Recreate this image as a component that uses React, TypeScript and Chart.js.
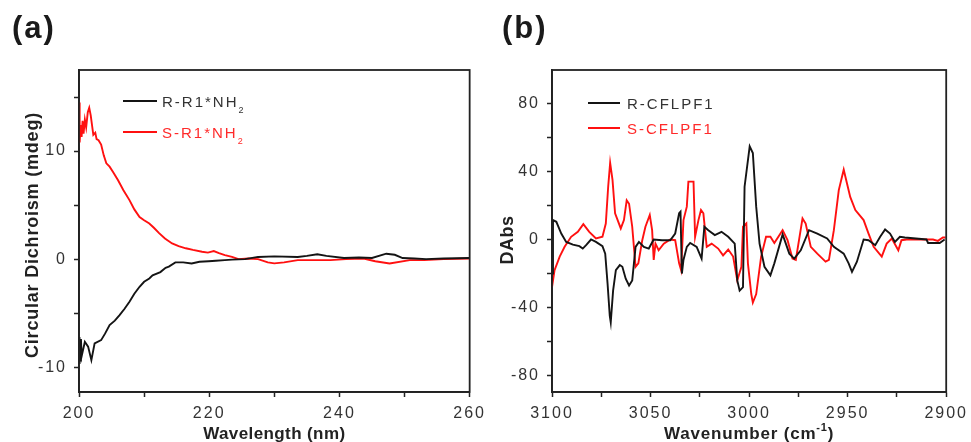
import React, { useEffect, useRef } from "react";
import { Chart, registerables } from "chart.js";

Chart.register(...registerables);

// ---------- Panel (a): CD spectra ----------
const aRx = [200.0, 200.05, 200.1, 200.2, 200.3, 200.4, 200.9, 201.4, 201.9, 202.4, 203.4, 204.0, 204.7, 205.5, 206.2, 207.0, 207.75, 208.5, 209.3, 210.0, 210.8, 211.3, 212.5, 213.3, 213.8, 214.8, 216.0, 217.3, 218.5, 219.9, 221.0, 222.4, 223.5, 225.5, 227.5, 230.0, 233.6, 235.0, 236.6, 238.0, 240.7, 243.0, 245.0, 247.2, 248.5, 249.7, 251.5, 253.3, 256.0, 260.0];
const aRy = [-7.2, -9.7, -7.5, -9.4, -7.4, -9.0, -7.65, -8.1, -9.35, -7.8, -7.5, -6.9, -6.1, -5.7, -5.2, -4.6, -3.95, -3.2, -2.56, -2.1, -1.8, -1.5, -1.2, -0.8, -0.7, -0.3, -0.3, -0.4, -0.25, -0.2, -0.15, -0.1, -0.05, 0.0, 0.2, 0.25, 0.2, 0.3, 0.45, 0.3, 0.1, 0.15, 0.1, 0.5, 0.4, 0.1, 0.05, 0.0, 0.05, 0.1];

const aSx = [200.0, 200.1, 200.25, 200.4, 200.55, 200.7, 200.9, 201.1, 201.35, 201.57, 201.8, 202.2, 202.5, 202.7, 203.0, 203.4, 203.8, 204.2, 204.7, 205.3, 206.0, 206.8, 207.75, 208.5, 209.3, 210.0, 210.8, 211.5, 212.3, 213.2, 214.3, 215.3, 216.4, 217.5, 218.9, 219.8, 220.7, 221.5, 222.4, 223.5, 224.5, 226.0, 227.5, 229.0, 230.0, 231.5, 233.6, 236.0, 238.6, 241.0, 243.7, 245.5, 247.7, 250.8, 253.0, 256.0, 260.0];
const aSy = [14.5, 10.8, 12.4, 11.3, 12.8, 11.6, 12.9, 12.2, 13.6, 14.0, 13.3, 11.5, 11.7, 11.1, 11.0, 10.6, 9.6, 8.86, 8.55, 8.0, 7.3, 6.4, 5.46, 4.6, 3.9, 3.6, 3.3, 2.9, 2.4, 1.9, 1.45, 1.2, 1.0, 0.85, 0.68, 0.6, 0.74, 0.55, 0.37, 0.2, 0.0, 0.05, 0.0, -0.3, -0.4, -0.3, -0.1, -0.1, -0.1, 0.0, 0.05, -0.2, -0.4, -0.1, -0.1, 0.0, 0.05];

const aXTicks = [200, 210, 220, 230, 240, 250, 260];
const aXLabels = [200, 220, 240, 260];
const aYTicks = [-10, -5, 0, 5, 10, 15];
const aYLabels = [-10, 0, 10];

// ---------- Panel (b): VCD spectra ----------
const bRx = [3100, 3099.5, 3097.8, 3095.3, 3092.8, 3089.4, 3086.1, 3084.4, 3082.7, 3080.2, 3077.7, 3074.4, 3073.0, 3071.8, 3070.7, 3070.2, 3069.0, 3067.6, 3065.6, 3064.3, 3062.6, 3060.9, 3059.3, 3057.6, 3055.9, 3053.4, 3050.9, 3048.4, 3044.2, 3040.0, 3037.5, 3035.5, 3034.8, 3034.1, 3033.3, 3031.6, 3029.9, 3026.6, 3024.1, 3022.7, 3020.7, 3017.4, 3014.0, 3010.6, 3007.3, 3006.0, 3004.8, 3003.1, 3002.3, 2999.7, 2998.1, 2996.4, 2994.7, 2992.2, 2989.2, 2987.2, 2983.0, 2979.6, 2977.1, 2973.8, 2969.6, 2965.4, 2960.4, 2957.0, 2952.0, 2949.5, 2947.8, 2945.3, 2941.9, 2939.4, 2936.0, 2933.5, 2931.0, 2928.5, 2926.0, 2923.5, 2921.0, 2910.0, 2909.2, 2903.3, 2900.8];
const bRy = [-20, 11.4, 10.4, 3.5, -1.4, -3.0, -3.9, -5.3, -3.3, 0, -1.4, -3.9, -8.3, -26, -44.7, -48.6, -30, -18, -15, -16, -23, -27, -24, -4.3, -1.4, -4.3, -5.3, 0, -0.4, -0.4, 3.5, 15.4, 16.3, -20, -12, -4.3, -2, -4.3, -11.2, 7.5, 5.5, 2.6, 4.5, 1.6, -2.4, -24, -30, -28, 31, 54.7, 50.8, 19.3, -2.4, -16, -21, -14, 3.0, -8.3, -11.2, -6.3, 5.5, 3.5, 0.6, -4.3, -8.3, -14, -19, -13, 0, -0.4, -3.3, 1.6, 5.9, 3.5, -1.4, 1.6, 1.2, 0, -2, -2, 0];

const bSx = [3100, 3098.7, 3096.1, 3093.6, 3090.3, 3086.9, 3084.1, 3081.1, 3077.7, 3074.4, 3072.7, 3071.5, 3070.5, 3069.3, 3068.0, 3065.1, 3063.5, 3062.1, 3060.9, 3059.3, 3057.6, 3056.2, 3054.2, 3052.6, 3050.4, 3049.2, 3048.4, 3047.5, 3045.9, 3043.3, 3040.0, 3037.5, 3035.5, 3034.5, 3033.3, 3031.6, 3030.8, 3028.2, 3027.4, 3025.7, 3024.4, 3023.2, 3021.5, 3019.0, 3015.7, 3013.2, 3010.6, 3008.1, 3006.0, 3003.9, 3003.1, 3001.4, 3000.6, 2998.9, 2998.1, 2996.4, 2993.9, 2991.4, 2989.2, 2987.2, 2983.0, 2980.5, 2978.0, 2976.3, 2972.9, 2971.3, 2968.7, 2965.4, 2961.2, 2959.5, 2957.0, 2954.5, 2952.0, 2948.7, 2946.1, 2941.9, 2939.4, 2936.8, 2932.7, 2930.2, 2927.6, 2924.3, 2922.7, 2920.1, 2906.7, 2904.2, 2901.7, 2900.3];
const bSy = [-28, -18, -10, -4.3, 1.6, 4.5, 9, 4.5, 0.6, 1.6, 9.4, 31, 45, 35, 15.4, 6.5, 11.4, 23, 21, 7.5, -16, -14, -0.4, 7.5, 14.4, 5.5, -12, -2.4, -6.3, -2.4, 0, -0.4, -14, -18, 11.4, 19.3, 34, 34, 1.6, 11.4, 17.3, 15.4, -4.3, -2.4, -5.3, -9.3, -5.9, -10, -24, -16, 7.5, 9.4, -14, -32, -37, -32, -10, 1.6, 1.6, -2, 5.5, -0.4, -11.2, -12, 12.4, 9.4, -4.3, -8.3, -13, -12, 5.5, 29, 41, 25, 17.3, 11.4, 3.5, -4.3, -10, -2.4, 0.6, -6.3, -0.4, 0, 0, -0.8, 1.2, 1.2];

const bXTicks = [3100, 3075, 3050, 3025, 3000, 2975, 2950, 2925, 2900];
const bXLabels = [3100, 3050, 3000, 2950, 2900];
const bYTicks = [-80, -60, -40, -20, 0, 20, 40, 60, 80];
const bYLabels = [-80, -40, 0, 40, 80];

const FONT = "'Liberation Sans', Arial, Helvetica, sans-serif";
const AXIS = "#222222";
const TICKTXT = "#333333";
const BLACK = "#141414";
const RED = "#ff1010";

type Part = { text: string; size: number; bold?: boolean; dy?: number };

function zip(xs: number[], ys: number[]) {
  return xs.map((x, i) => ({ x, y: ys[i] }));
}

function drawParts(ctx: CanvasRenderingContext2D, parts: Part[], x: number, y: number, center: boolean, spacing: number) {
  ctx.letterSpacing = spacing + "px";
  ctx.textBaseline = "alphabetic";
  ctx.textAlign = "left";
  const widths = parts.map((p) => {
    ctx.font = `${p.bold ? "bold " : ""}${p.size}px ${FONT}`;
    return ctx.measureText(p.text).width;
  });
  const total = widths.reduce((s, w) => s + w, 0);
  let cx = center ? x - total / 2 : x;
  parts.forEach((p, i) => {
    ctx.font = `${p.bold ? "bold " : ""}${p.size}px ${FONT}`;
    ctx.fillText(p.text, cx, y + (p.dy || 0));
    cx += widths[i];
  });
}

type LegendItem = { parts: Part[]; color: string; y: number };

type PanelCfg = {
  width: number;
  left: number;
  yAxisWidth: number;
  padRight: number;
  series: { data: { x: number; y: number }[]; color: string }[];
  xMin: number;
  xMax: number;
  reverse: boolean;
  yMin: number;
  yMax: number;
  xTicks: number[];
  xLabels: number[];
  yTicks: number[];
  yLabels: number[];
  panelLabel: string;
  xTitle: Part[];
  yTitle: Part[];
  yTitleX: number;
  yTitleY: number;
  yTitleSpacing: number;
  xTitleSpacing: number;
  legendX1: number;
  legendX2: number;
  legendTextX: number;
  legend: LegendItem[];
};

function Panel({ cfg }: { cfg: PanelCfg }) {
  const ref = useRef<HTMLCanvasElement | null>(null);
  useEffect(() => {
    if (!ref.current) return;
    const overlay = {
      id: "overlay" + cfg.panelLabel,
      beforeDraw(chart: any) {
        chart.ctx.letterSpacing = "2px";
      },
      afterDraw(chart: any) {
        const ctx: CanvasRenderingContext2D = chart.ctx;
        const a = chart.chartArea;
        ctx.save();
        ctx.strokeStyle = AXIS;
        ctx.lineWidth = 1.8;
        ctx.strokeRect(a.left, a.top, a.right - a.left, a.bottom - a.top);

        // panel label
        ctx.fillStyle = "#1a1a1a";
        drawParts(ctx, [{ text: cfg.panelLabel, size: 31, bold: true }], 12, 38, false, 2);

        // x title
        ctx.fillStyle = "#222";
        drawParts(ctx, cfg.xTitle, (a.left + a.right) / 2, 439, true, cfg.xTitleSpacing);

        // y title
        ctx.save();
        ctx.translate(cfg.yTitleX, cfg.yTitleY);
        ctx.rotate(-Math.PI / 2);
        drawParts(ctx, cfg.yTitle, 0, 6, true, cfg.yTitleSpacing);
        ctx.restore();

        // legend
        cfg.legend.forEach((it) => {
          ctx.strokeStyle = it.color;
          ctx.lineWidth = 2;
          ctx.beginPath();
          ctx.moveTo(cfg.legendX1, it.y);
          ctx.lineTo(cfg.legendX2, it.y);
          ctx.stroke();
          ctx.fillStyle = it.color === BLACK ? "#333" : "#ff2a2a";
          drawParts(ctx, it.parts, cfg.legendTextX, it.y + 5.5, false, 2);
        });
        ctx.restore();
      },
    };

    const chart = new Chart(ref.current, {
      type: "line",
      data: {
        datasets: cfg.series.map((s) => ({
          data: s.data,
          borderColor: s.color,
          backgroundColor: s.color,
          borderWidth: 1.9,
          pointRadius: 0,
          tension: 0,
          fill: false,
        })),
      },
      options: {
        responsive: false,
        animation: false,
        devicePixelRatio: 1,
        parsing: false as any,
        layout: { padding: { top: 70, right: cfg.padRight, bottom: 0, left: 0 } },
        plugins: { legend: { display: false }, tooltip: { enabled: false } },
        scales: {
          x: {
            type: "linear",
            min: cfg.xMin,
            max: cfg.xMax,
            reverse: cfg.reverse,
            afterBuildTicks: (scale: any) => {
              scale.ticks = cfg.xTicks.map((v) => ({ value: v }));
            },
            afterFit: (scale: any) => {
              scale.height = 50;
            },
            ticks: {
              autoSkip: false,
              maxRotation: 0,
              padding: 7,
              color: TICKTXT,
              font: { family: FONT, size: 16 },
              callback: (v: any) => (cfg.xLabels.includes(Number(v)) ? String(v) : ""),
            },
            grid: { drawOnChartArea: false, drawTicks: true, tickLength: 5, tickColor: AXIS, tickWidth: 1.5 },
            border: { display: true, color: AXIS, width: 1.8 },
          },
          y: {
            type: "linear",
            min: cfg.yMin,
            max: cfg.yMax,
            afterBuildTicks: (scale: any) => {
              scale.ticks = cfg.yTicks.map((v) => ({ value: v }));
            },
            afterFit: (scale: any) => {
              scale.width = cfg.yAxisWidth;
            },
            ticks: {
              autoSkip: false,
              padding: 7,
              color: TICKTXT,
              font: { family: FONT, size: 16 },
              callback: (v: any) => (cfg.yLabels.includes(Number(v)) ? String(v) : ""),
            },
            grid: { drawOnChartArea: false, drawTicks: true, tickLength: 5, tickColor: AXIS, tickWidth: 1.5 },
            border: { display: true, color: AXIS, width: 1.8 },
          },
        },
      } as any,
      plugins: [overlay as any],
    });
    return () => chart.destroy();
  }, []);
  return (
    <canvas
      ref={ref}
      width={cfg.width}
      height={442}
      style={{ position: "absolute", left: cfg.left, top: 0, width: cfg.width, height: 442 }}
    />
  );
}

const panelA: PanelCfg = {
  width: 490,
  left: 0,
  yAxisWidth: 79,
  padRight: 16,
  series: [
    { data: zip(aRx, aRy), color: BLACK },
    { data: zip(aSx, aSy), color: RED },
  ],
  xMin: 200,
  xMax: 260,
  reverse: false,
  yMin: -12.3,
  yMax: 17.5,
  xTicks: aXTicks,
  xLabels: aXLabels,
  yTicks: aYTicks,
  yLabels: aYLabels,
  panelLabel: "(a)",
  xTitle: [{ text: "Wavelength (nm)", size: 17, bold: true }],
  yTitle: [{ text: "Circular Dichroism (mdeg)", size: 18, bold: true }],
  yTitleX: 32,
  yTitleY: 235,
  yTitleSpacing: 0.8,
  xTitleSpacing: 0.4,
  legendX1: 123,
  legendX2: 157,
  legendTextX: 162,
  legend: [
    { parts: [{ text: "R-R1*NH", size: 15 }, { text: "2", size: 9, dy: 6 }], color: BLACK, y: 101 },
    { parts: [{ text: "S-R1*NH", size: 15 }, { text: "2", size: 9, dy: 6 }], color: RED, y: 132 },
  ],
};

const panelB: PanelCfg = {
  width: 481,
  left: 490,
  yAxisWidth: 62,
  padRight: 21,
  series: [
    { data: zip(bRx, bRy), color: BLACK },
    { data: zip(bSx, bSy), color: RED },
  ],
  xMin: 2900,
  xMax: 3100,
  reverse: true,
  yMin: -89.5,
  yMax: 99.5,
  xTicks: bXTicks,
  xLabels: bXLabels,
  yTicks: bYTicks,
  yLabels: bYLabels,
  panelLabel: "(b)",
  xTitle: [
    { text: "Wavenumber (cm", size: 17, bold: true },
    { text: "-1", size: 11, bold: true, dy: -8 },
    { text: ")", size: 17, bold: true },
  ],
  yTitle: [{ text: "DAbs", size: 18, bold: true }],
  yTitleX: 17,
  yTitleY: 240,
  yTitleSpacing: 0.5,
  xTitleSpacing: 0.8,
  legendX1: 98,
  legendX2: 130,
  legendTextX: 137,
  legend: [
    { parts: [{ text: "R-CFLPF1", size: 15 }], color: BLACK, y: 103 },
    { parts: [{ text: "S-CFLPF1", size: 15 }], color: RED, y: 128 },
  ],
};

export default function App() {
  return (
    <div style={{ position: "absolute", left: 0, top: 0, width: 971, height: 442, background: "#fff" }}>
      <Panel cfg={panelA} />
      <Panel cfg={panelB} />
    </div>
  );
}
